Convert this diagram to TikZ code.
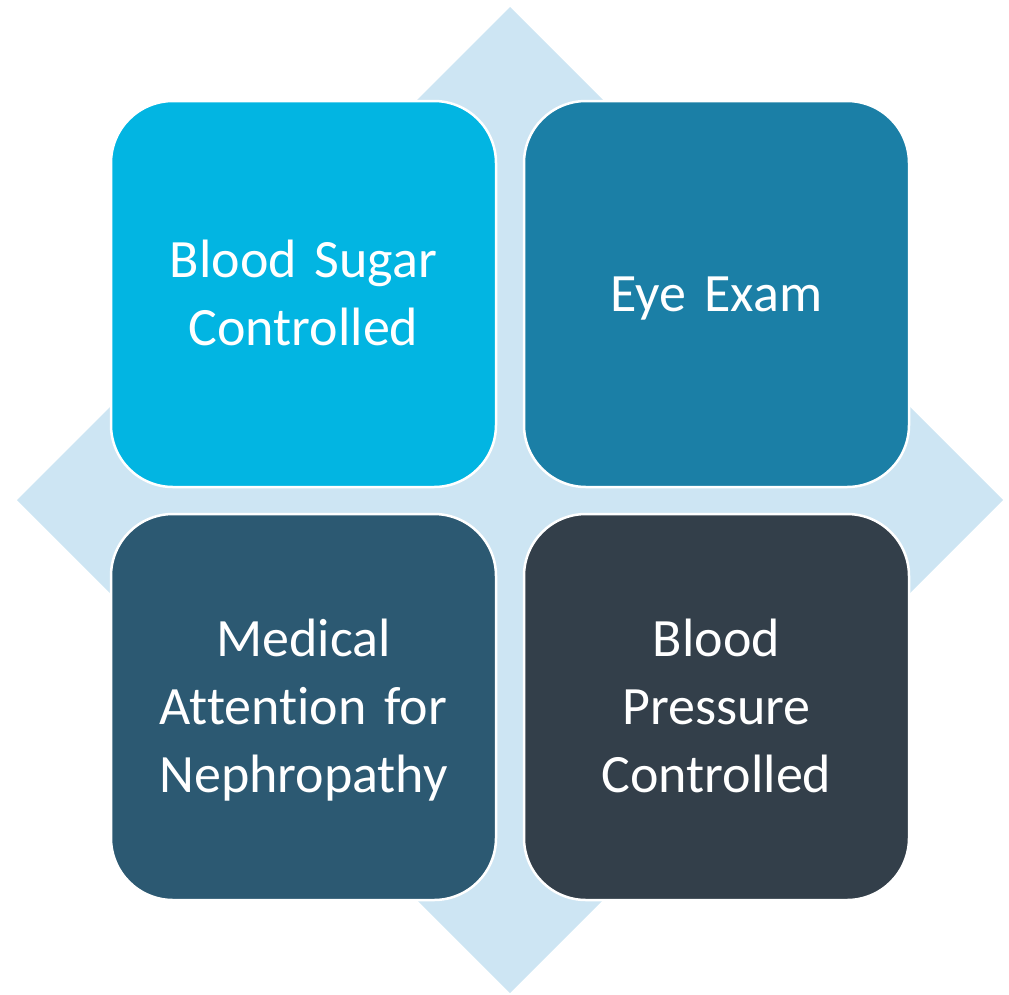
\documentclass[tikz,border=0pt]{standalone}
\usepackage{fontspec}
\setmainfont{Carlito}[Ligatures=NoCommon, WordSpace=0.75]
\definecolor{diam}{RGB}{205,229,243}
\definecolor{cA}{RGB}{2,181,226}
\definecolor{cB}{RGB}{27,127,166}
\definecolor{cC}{RGB}{44,89,114}
\definecolor{cD}{RGB}{51,63,74}
\tikzset{
  quad/.style={draw=white, line width=2.5pt, rounded corners=62pt,
    minimum width=385pt, minimum height=386pt, inner sep=0pt,
    text=white, align=center, text width=360pt,
    text height=34.5pt, text depth=#1,
    font=\fontsize{54}{68}\selectfont},
  quad/.default=0pt
}
\begin{document}
\begin{tikzpicture}[x=1pt,y=-1pt]
\useasboundingbox (0,0) rectangle (1009,994);
\coordinate (dt) at (510,7);
\coordinate (dr) at (1003,500);
\coordinate (db) at (510,993);
\coordinate (dl) at (17,500);
\fill[diam] (dt) -- (dr) -- (db) -- (dl) -- cycle;
\node[quad=68pt, fill=cA] (a) at (303.5,294) {Blood Sugar\\Controlled};
\node[quad=0pt, fill=cB] (b) at (716.5,294) {Eye Exam};
\node[quad=136pt, fill=cC] (c) at (303.5,707) {Medical\\Attention for\\Nephropathy};
\node[quad=136pt, fill=cD] (d) at (716.5,707) {Blood\\Pressure\\Controlled};
\end{tikzpicture}
\end{document}
